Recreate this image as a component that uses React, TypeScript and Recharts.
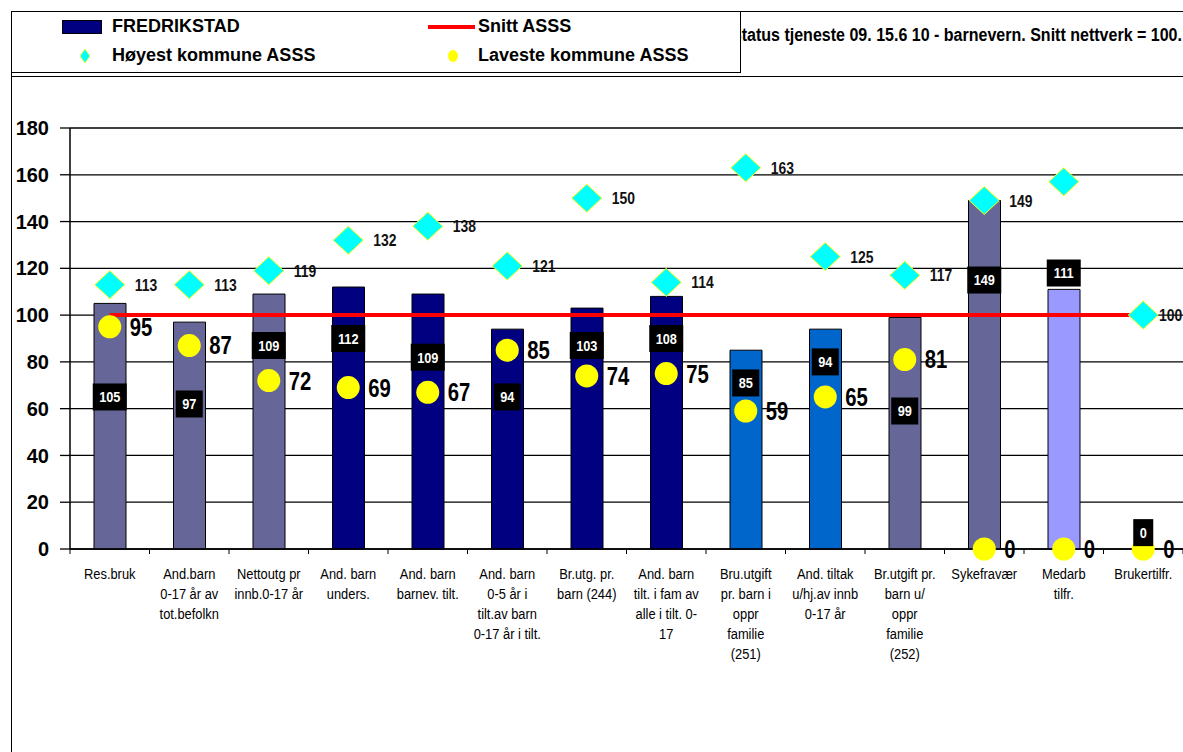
import React from 'react';
import {
  ComposedChart,
  Bar,
  Line,
  XAxis,
  YAxis,
  CartesianGrid,
  Cell,
  LabelList,
} from 'recharts';

const categories = [
  'Res.bruk',
  'And.barn\n0-17 år av\ntot.befolkn',
  'Nettoutg pr\ninnb.0-17 år',
  'And. barn\nunders.',
  'And. barn\nbarnev. tilt.',
  'And. barn\n0-5 år i\ntilt.av barn\n0-17 år i tilt.',
  'Br.utg. pr.\nbarn (244)',
  'And. barn\ntilt. i fam av\nalle i tilt. 0-\n17',
  'Bru.utgift\npr. barn i\noppr\nfamilie\n(251)',
  'And. tiltak\nu/hj.av innb\n0-17 år',
  'Br.utgift pr.\nbarn u/\noppr\nfamilie\n(252)',
  'Sykefravær',
  'Medarb\ntilfr.',
  'Brukertilfr.',
];
const fredrikstad = [105, 97, 109, 112, 109, 94, 103, 108, 85, 94, 99, 149, 111, 0];
const snittAsss = [100, 100, 100, 100, 100, 100, 100, 100, 100, 100, 100, 100, 100, 100];
const hoyest = [113, 113, 119, 132, 138, 121, 150, 114, 163, 125, 117, 149, 157, 100];
const hoyestLabels = ['113', '113', '119', '132', '138', '121', '150', '114', '163', '125', '117', '149', '', '100'];
const laveste = [95, 87, 72, 69, 67, 85, 74, 75, 59, 65, 81, 0, 0, 0];
// where the black value boxes sit, in axis units
const boxAt = [65, 62, 87, 90, 82, 65, 87, 90, 71, 80, 59, 115, 118, 7];
const yTicks = [0, 20, 40, 60, 80, 100, 120, 140, 160, 180];

const barColors = [
  '#666699', '#666699', '#666699', '#000080', '#000080', '#000080', '#000080',
  '#000080', '#0066CC', '#0066CC', '#666699', '#666699', '#9999FF', '#666699',
];

const data = categories.map((name, i) => ({
  name,
  fredrikstad: fredrikstad[i],
  snitt: snittAsss[i],
  hoyest: hoyest[i],
  hoyestLabel: hoyestLabels[i],
  laveste: laveste[i],
  boxAt: boxAt[i],
}));

const W = 1183;
const H = 752;
const PLOT_LEFT = 70;
const PLOT_TOP = 128;
const PLOT_BOTTOM = 549;
const X_AXIS_H = 150;
const BAND = (W - PLOT_LEFT) / categories.length;

const SANS = '"Liberation Sans", Arial, sans-serif';

const XTick = (props: any) => {
  const { x, payload, index } = props;
  const lines = String(payload.value).split('\n');
  const half = BAND / 2;
  return (
    <g>
      <line x1={x - half} x2={x - half} y1={PLOT_BOTTOM} y2={PLOT_BOTTOM + 5} stroke="#000" />
      {index === categories.length - 1 && (
        <line x1={x + half} x2={x + half} y1={PLOT_BOTTOM} y2={PLOT_BOTTOM + 5} stroke="#000" />
      )}
      <text
        transform={`translate(${x},${PLOT_BOTTOM + 30}) scale(0.92,1)`}
        textAnchor="middle"
        fontSize={14}
        fontFamily={SANS}
        fill="#000"
      >
        {lines.map((l, i) => (
          <tspan key={i} x={0} dy={i === 0 ? 0 : 20}>
            {l}
          </tspan>
        ))}
      </text>
    </g>
  );
};

const Diamond = (props: any) => {
  const { cx, cy, index } = props;
  if (cx == null || cy == null) return <g key={index} />;
  return (
    <path
      key={index}
      d={`M${cx},${cy - 14} L${cx + 15},${cy} L${cx},${cy + 14} L${cx - 15},${cy} Z`}
      fill="#00FFFF"
      stroke="#FFFF00"
      strokeWidth={1}
    />
  );
};

const Dot = (props: any) => {
  const { cx, cy, index } = props;
  if (cx == null || cy == null) return <g key={index} />;
  return <circle key={index} cx={cx} cy={cy} r={11.5} fill="#FFFF00" />;
};

const HighLabel = (props: any) => {
  const { x, y, value } = props;
  if (!value) return null;
  const lx = Math.min(x + 25, W - 24);
  return (
    <text
      transform={`translate(${lx},${y}) scale(0.82,1)`}
      dominantBaseline="central"
      fontSize={17}
      fontWeight="bold"
      fontFamily={SANS}
      fill="#111"
    >
      {value}
    </text>
  );
};

const LowLabel = (props: any) => {
  const { x, y, value } = props;
  return (
    <text
      transform={`translate(${x + 20},${y}) scale(0.78,1)`}
      dominantBaseline="central"
      fontSize={26}
      fontWeight="bold"
      fontFamily={SANS}
      fill="#000"
    >
      {value}
    </text>
  );
};

const BoxLabel = (props: any) => {
  const { x, y, value } = props;
  const txt = String(value);
  const w = txt.length * 7 + 13;
  return (
    <g>
      <rect x={x - w / 2} y={y - 13.5} width={w} height={27} fill="#000" />
      <text
        transform={`translate(${x},${y}) scale(0.85,1)`}
        textAnchor="middle"
        dominantBaseline="central"
        fontSize={15}
        fontWeight="bold"
        fontFamily={SANS}
        fill="#fff"
      >
        {txt}
      </text>
    </g>
  );
};

const legendText: React.CSSProperties = {
  position: 'absolute',
  fontFamily: SANS,
  fontWeight: 'bold',
  fontSize: 18,
  lineHeight: '20px',
  whiteSpace: 'nowrap',
};

export default function App() {
  return (
    <div style={{ position: 'absolute', left: 0, top: 0, width: W, height: H, background: '#fff', overflow: 'hidden' }}>
      {/* frame */}
      <div style={{ position: 'absolute', left: 11, top: 11, width: W - 11, height: H - 11, borderLeft: '1.5px solid #000', borderTop: '1.5px solid #000' }} />
      <div style={{ position: 'absolute', left: 11, top: 76, width: W - 11, borderTop: '1px solid #000' }} />

      <div
        style={{
          position: 'absolute',
          left: 731,
          top: 25,
          fontFamily: SANS,
          fontWeight: 'bold',
          fontSize: 18,
          whiteSpace: 'nowrap',
          transform: 'scaleX(0.89)',
          transformOrigin: 'left center',
        }}
      >
        Status tjeneste 09. 15.6 10 - barnevern. Snitt nettverk = 100.
      </div>

      {/* legend */}
      <div style={{ position: 'absolute', left: 11, top: 11, width: 728, height: 60, border: '1px solid #000', background: '#fff' }}>
        <div style={{ position: 'absolute', left: 50, top: 8, width: 38, height: 12, background: '#000080', border: '1px solid #000' }} />
        <div style={{ ...legendText, left: 100, top: 4 }}>FREDRIKSTAD</div>
        <div style={{ position: 'absolute', left: 416, top: 13, width: 47, height: 4, background: '#FF0000' }} />
        <div style={{ ...legendText, left: 466, top: 4 }}>Snitt ASSS</div>
        <svg style={{ position: 'absolute', left: 66, top: 36 }} width={14} height={16}>
          <path d="M7,1 L12,8 L7,15 L2,8 Z" fill="#00FFFF" stroke="#FFFF00" strokeWidth={0.8} />
        </svg>
        <div style={{ ...legendText, left: 100, top: 33 }}>Høyest kommune ASSS</div>
        <svg style={{ position: 'absolute', left: 434, top: 37 }} width={14} height={14}>
          <ellipse cx={7} cy={7} rx={5} ry={6} fill="#FFFF00" />
        </svg>
        <div style={{ ...legendText, left: 466, top: 33 }}>Laveste kommune ASSS</div>
      </div>

      <div style={{ position: 'absolute', left: 0, top: 0 }}>
        <ComposedChart
          width={W}
          height={H}
          data={data}
          margin={{ top: PLOT_TOP, right: 0, left: PLOT_LEFT - 60, bottom: H - PLOT_BOTTOM - X_AXIS_H }}
        >
          <CartesianGrid vertical={false} stroke="#000" strokeWidth={1.3} />
          <XAxis
            dataKey="name"
            interval={0}
            tickLine={false}
            axisLine={{ stroke: '#000', strokeWidth: 1.5 }}
            tick={<XTick />}
            height={X_AXIS_H}
          />
          <YAxis
            width={60}
            domain={[0, 180]}
            ticks={yTicks}
            interval={0}
            tickSize={10}
            tickMargin={11}
            axisLine={{ stroke: '#000', strokeWidth: 1.5 }}
            tickLine={{ stroke: '#000', strokeWidth: 1.3 }}
            tick={{ fontSize: 20, fontWeight: 'bold', fill: '#000', fontFamily: SANS }}
          />
          <Bar dataKey="fredrikstad" barSize={32} stroke="#000" strokeWidth={1} isAnimationActive={false}>
            {data.map((_, i) => (
              <Cell key={i} fill={barColors[i]} />
            ))}
          </Bar>
          <Line dataKey="snitt" stroke="#FF0000" strokeWidth={4} dot={false} activeDot={false} isAnimationActive={false} />
          <Line dataKey="hoyest" stroke="none" dot={<Diamond />} activeDot={false} isAnimationActive={false}>
            <LabelList dataKey="hoyestLabel" content={<HighLabel />} />
          </Line>
          <Line dataKey="laveste" stroke="none" dot={<Dot />} activeDot={false} isAnimationActive={false}>
            <LabelList dataKey="laveste" content={<LowLabel />} />
          </Line>
          <Line dataKey="boxAt" stroke="none" dot={false} activeDot={false} isAnimationActive={false}>
            <LabelList dataKey="fredrikstad" content={<BoxLabel />} />
          </Line>
        </ComposedChart>
      </div>
    </div>
  );
}
